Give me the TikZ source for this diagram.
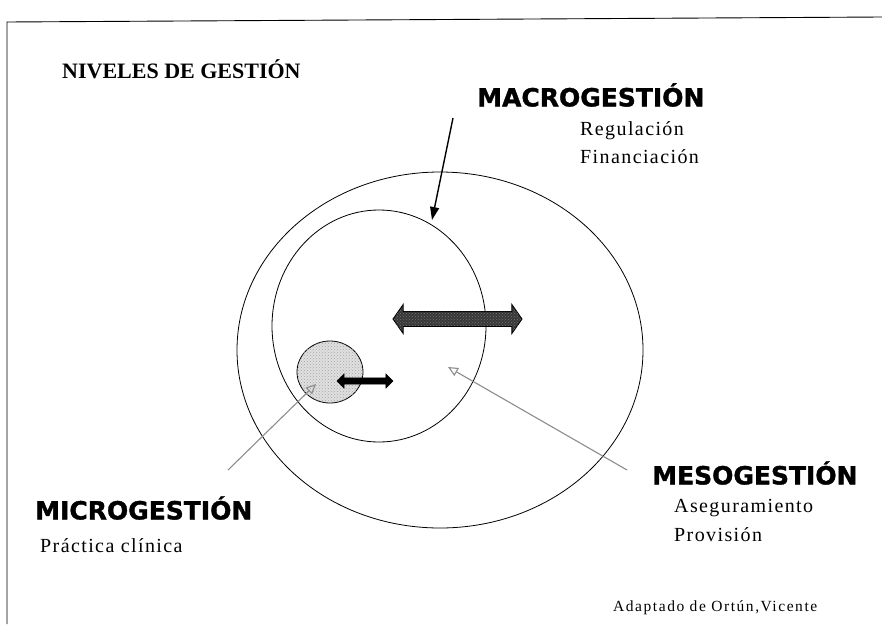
\documentclass[tikz,border=0pt]{standalone}
\usepackage{fontspec}
\setmainfont{Liberation Serif}
\newfontfamily\headsans[FakeBold=1.4]{DejaVu Sans}
\usetikzlibrary{arrows.meta,shapes.arrows,shapes.geometric,patterns}
\tikzset{
  ring/.style={draw=black, line width=0.8pt},
  title/.style={anchor=west, inner sep=0pt, font=\headsans\bfseries\fontsize{25}{25}\selectfont},
  body/.style={anchor=west, inner sep=0pt, font=\addfontfeatures{LetterSpace=7}\fontsize{20}{20}\selectfont},
  pointer/.style={draw=black!45, line width=1.1pt, -{Triangle[open, length=10pt, width=9pt]}},
  blackarrow/.style={draw=black, line width=1.4pt, -{Triangle[length=13pt, width=9pt]}},
}
\begin{document}
\begin{tikzpicture}[x=1pt,y=-1pt]
\useasboundingbox (0,0) rectangle (882,624);
% frame (top and left edges)
\draw[line width=0.9pt] (7,624) -- (7,22) -- (882,17);
% circles
\node[ring, ellipse, minimum width=406pt, minimum height=356pt, inner sep=0pt] (outer) at (440,350) {};
\node[ring, ellipse, minimum width=214pt, minimum height=232pt, inner sep=0pt] (inner) at (379,326) {};
\node[draw=black, line width=0.8pt, fill=black!12, ellipse, minimum width=66pt, minimum height=62pt, inner sep=0pt, postaction={pattern=crosshatch dots, pattern color=black!35}] (micro) at (330,372) {};
% double arrows
\node[double arrow, draw=black, line width=0.9pt, fill=black!78, postaction={pattern=crosshatch dots, pattern color=black!55}, minimum height=129pt, minimum width=28pt, inner xsep=0pt, inner ysep=7pt, double arrow head extend=7pt, double arrow tip angle=110] (bigarrow) at (457.5,319) {};
\node[double arrow, draw=black, fill=black, minimum height=56pt, minimum width=14pt, inner xsep=0pt, inner ysep=3pt, double arrow head extend=4pt] (smallarrow) at (365,381) {};
% texts
\node[anchor=west, inner sep=0pt, font=\bfseries\fontsize{22}{22}\selectfont] (niveles) at (62,69) {NIVELES DE GESTIÓN};
\node[title] (macro) at (477,95) {MACROGESTIÓN};
\node[body] (reg) at (580,131) {Regulación};
\node[body] (fin) at (580,157) {Financiación};
\node[title] (meso) at (652,473) {MESOGESTIÓN};
\node[body] (aseg) at (674,508) {Aseguramiento};
\node[body] (prov) at (674,535) {Provisión};
\node[title] (microt) at (35,508) {MICROGESTIÓN};
\node[body] (prac) at (40,546) {Práctica clínica};
\node[anchor=west, inner sep=0pt, font=\addfontfeatures{LetterSpace=10}\fontsize{15.5}{15.5}\selectfont] (adapt) at (613,608) {Adaptado de Ortún,Vicente};
% pointers
\coordinate (macrotail) at (453,118);
\coordinate (macrotip) at (432,220);
\draw[blackarrow] (macrotail) -- (macrotip);
\coordinate (mesotail) at (627,470);
\coordinate (mesotip) at (448,367);
\draw[pointer] (mesotail) -- (mesotip);
\coordinate (microtail) at (228,470);
\coordinate (microtip) at (316,384);
\draw[pointer] (microtail) -- (microtip);
\end{tikzpicture}
\end{document}
